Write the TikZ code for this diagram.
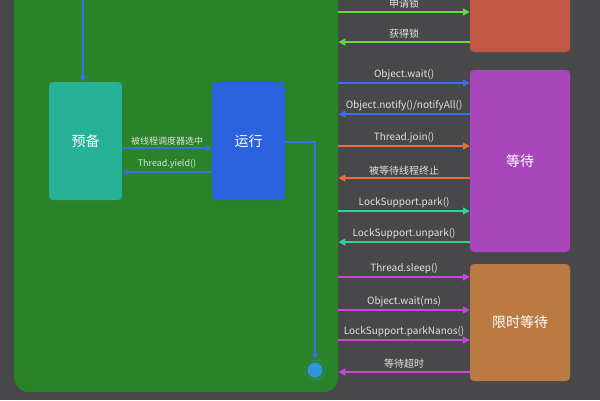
\documentclass[tikz,border=0pt]{standalone}
\usepackage{fontspec}
\setmainfont{Noto Sans CJK SC}
\usetikzlibrary{arrows.meta,calc}
\definecolor{bgc}{RGB}{72,72,74}
\definecolor{panelc}{RGB}{41,131,41}
\definecolor{readyc}{RGB}{38,178,150}
\definecolor{runc}{RGB}{45,98,222}
\definecolor{blockc}{RGB}{192,88,68}
\definecolor{waitc}{RGB}{170,70,188}
\definecolor{timedc}{RGB}{187,122,66}
\definecolor{flowc}{RGB}{58,110,230}
\definecolor{lockc}{RGB}{100,220,60}
\definecolor{joinc}{RGB}{235,110,60}
\definecolor{parkc}{RGB}{50,210,150}
\definecolor{sleepc}{RGB}{200,70,220}
\definecolor{endc}{RGB}{45,150,220}
\definecolor{lblc}{RGB}{225,225,225}
\newcommand{\callin}[4]{%
  % y, colour, target box, label; arrow goes panel -> box
  \draw[call,#2] (panel.east |- 0,#1) -- (#3.west |- 0,#1)
    node[midway,above,lbl] {#4};
}
\newcommand{\callout}[4]{%
  % y, colour, source box, label; arrow goes box -> panel
  \draw[call,#2] (#3.west |- 0,#1) -- (panel.east |- 0,#1)
    node[midway,above,lbl] {#4};
}

\begin{document}
\begin{tikzpicture}[x=1pt,y=-1pt,
  state/.style={rounded corners=4pt,inner sep=0pt,text=white,
    font=\fontsize{14}{16}\selectfont},
  lbl/.style={text=lblc,font=\fontsize{10}{12}\selectfont,inner sep=2.5pt},
  call/.style={line width=1.4pt,-{Triangle[length=7pt,width=7pt]}},
  flow/.style={flowc,line width=1.2pt,-{Triangle[length=6pt,width=6pt]}}]
  \fill[bgc] (0,0) rectangle (600,400);
  \useasboundingbox (0,0) rectangle (600,400);
  \node[fill=panelc,rounded corners=15pt,minimum width=324pt,minimum height=412pt,
    inner sep=0pt,anchor=north west] (panel) at (14,-20) {};
  % states
  \node[state,fill=readyc,minimum width=73pt,minimum height=118pt] (ready) at (85.5,141) {预备};
  \node[state,fill=runc,minimum width=73pt,minimum height=118pt] (run) at (248.5,141) {运行};
  \node[state,fill=blockc,minimum width=100pt,minimum height=118pt] (block) at (520,-7) {阻塞};
  \node[state,fill=waitc,minimum width=100pt,minimum height=182pt] (wait) at (520,161) {等待};
  \node[state,fill=timedc,minimum width=100pt,minimum height=117pt] (timed) at (520,322.5) {限时等待};
  \node[circle,fill=endc,minimum size=15pt,inner sep=0pt] (end) at (315,370) {};
  \draw[endc!45!panelc,line width=0.6pt] (end) circle (10pt);
  \coordinate (entry) at (83,-20);
  % inside the panel
  \draw[flow] (entry) -- (entry |- ready.north);
  \draw[flow] (ready.east |- 0,148) -- (run.west |- 0,148)
    node[midway,above,lbl,font=\fontsize{9}{11}\selectfont] {被线程调度器选中};
  \draw[flow] (run.west |- 0,172) -- (ready.east |- 0,172)
    node[midway,above,lbl,font=\fontsize{9}{11}\selectfont] {Thread.yield()};
  \draw[flow,shorten >=3pt] (run.east |- 0,142) -| (end.north);
  % transitions to the right
  \callin{12}{lockc}{block}{申请锁}
  \callout{42}{lockc}{block}{获得锁}
  \callin{83}{flowc}{wait}{Object.wait()}
  \callout{114}{flowc}{wait}{Object.notify()/notifyAll()}
  \callin{146}{joinc}{wait}{Thread.join()}
  \callout{178}{joinc}{wait}{被等待线程终止}
  \callin{211}{parkc}{wait}{LockSupport.park()}
  \callout{242}{parkc}{wait}{LockSupport.unpark()}
  \callin{277}{sleepc}{timed}{Thread.sleep()}
  \callin{310}{sleepc}{timed}{Object.wait(ms)}
  \callin{340}{sleepc}{timed}{LockSupport.parkNanos()}
  \callout{372}{sleepc}{timed}{等待超时}
\end{tikzpicture}
\end{document}
